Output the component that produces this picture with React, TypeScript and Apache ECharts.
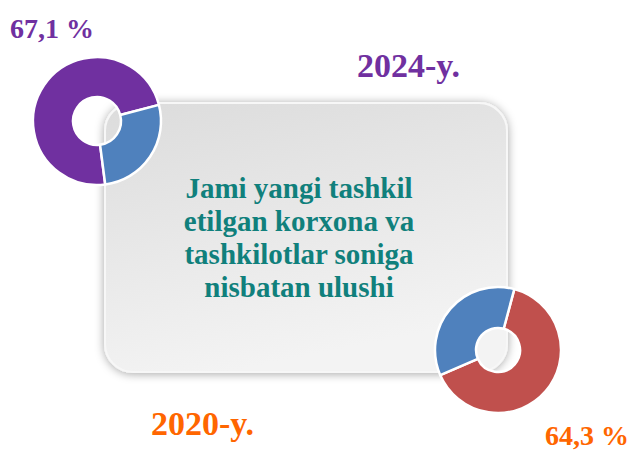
import React, { useEffect, useRef } from "react";
import * as echarts from "echarts";

const categories2024 = ["Ulush", "Boshqa"];
const share2024 = [73, 27];
const categories2020 = ["Ulush", "Boshqa"];
const share2020 = [64.3, 35.7];
const label2024 = "67,1 %";
const label2020 = "64,3 %";
const year2024 = "2024-y.";
const year2020 = "2020-y.";
const centerText = "Jami yangi tashkil\netilgan korxona va\ntashkilotlar soniga\nnisbatan ulushi";

const PURPLE = "#7030a0";
const BLUE = "#4f81bd";
const RED = "#c0504d";
const ORANGE = "#ff6600";
const TEAL = "#10807c";
const FONT = "'Liberation Serif', 'Times New Roman', serif";

export default function App() {
  const ref = useRef<HTMLDivElement>(null);
  useEffect(() => {
    if (!ref.current) return;
    const chart = echarts.init(ref.current, null, { renderer: "svg" });
    const pieCommon = {
      type: "pie",
      clockwise: true,
      label: { show: false },
      labelLine: { show: false },
      emphasis: { disabled: true },
      silent: true,
      itemStyle: { borderColor: "#ffffff", borderWidth: 2.5 },
    };
    chart.setOption({
      animation: false,
      backgroundColor: "#ffffff",
      graphic: [
        {
          type: "rect",
          z: 0,
          shape: { x: 105, y: 103, width: 402, height: 269, r: 28 },
          style: {
            fill: new echarts.graphic.LinearGradient(0, 0, 0.3, 1, [
              { offset: 0, color: "#dcdcdc" },
              { offset: 1, color: "#f3f3f3" },
            ]),
            stroke: "#f7f7f7",
            lineWidth: 2,
            shadowBlur: 10,
            shadowColor: "rgba(0,0,0,0.35)",
            shadowOffsetX: 0,
            shadowOffsetY: 1,
          },
        },
        {
          type: "text",
          z: 1,
          x: 299,
          y: 237,
          style: {
            text: centerText,
            fill: TEAL,
            font: `bold 29px ${FONT}`,
            lineHeight: 33,
            align: "center",
            verticalAlign: "middle",
          },
        },
        {
          type: "text",
          x: 10,
          y: 28,
          style: { text: label2024, fill: PURPLE, font: `bold 28px ${FONT}`, verticalAlign: "middle" },
        },
        {
          type: "text",
          x: 357,
          y: 65,
          style: { text: year2024, fill: PURPLE, font: `bold 34px ${FONT}`, verticalAlign: "middle" },
        },
        {
          type: "text",
          x: 151,
          y: 423,
          style: { text: year2020, fill: ORANGE, font: `bold 34px ${FONT}`, verticalAlign: "middle" },
        },
        {
          type: "text",
          x: 545,
          y: 435,
          style: { text: label2020, fill: ORANGE, font: `bold 28px ${FONT}`, verticalAlign: "middle" },
        },
      ],
      series: [
        {
          ...pieCommon,
          name: "2024",
          center: [97, 121],
          radius: [24, 64],
          startAngle: -82.6,
          data: categories2024.map((c, i) => ({
            name: c,
            value: share2024[i],
            itemStyle: { color: i === 0 ? PURPLE : BLUE },
          })),
        },
        {
          ...pieCommon,
          name: "2020",
          center: [498, 350],
          radius: [22, 63],
          startAngle: 75,
          data: categories2020.map((c, i) => ({
            name: c,
            value: share2020[i],
            itemStyle: { color: i === 0 ? RED : BLUE },
          })),
        },
      ],
    });
    return () => chart.dispose();
  }, []);
  return (
    <div
      ref={ref}
      style={{ position: "absolute", left: 0, top: 0, width: 635, height: 450 }}
    />
  );
}
